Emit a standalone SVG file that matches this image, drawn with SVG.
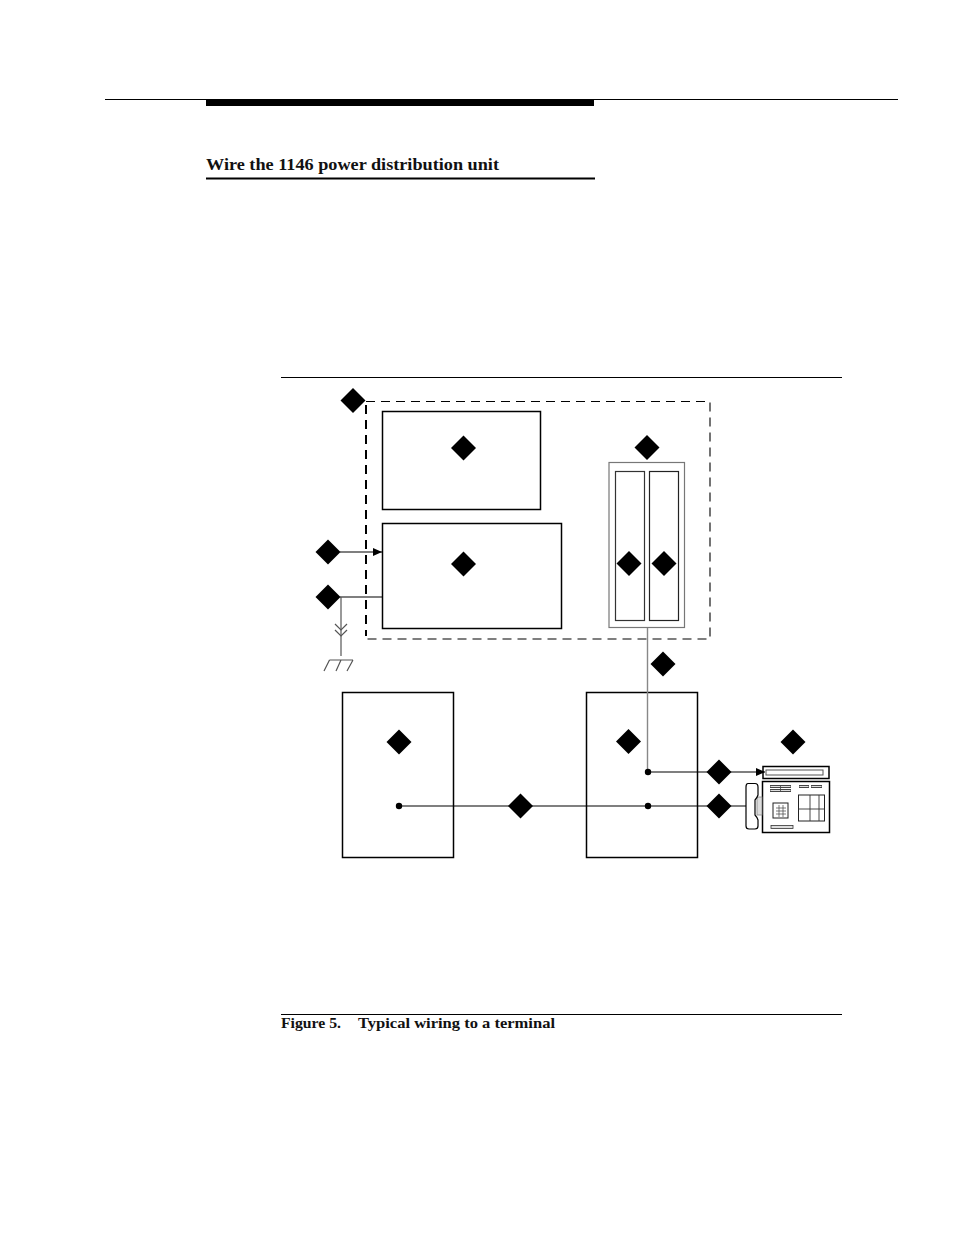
<svg xmlns="http://www.w3.org/2000/svg" width="954" height="1235" viewBox="0 0 954 1235">
<style>
.b{fill:none;stroke:#000;stroke-width:1.5}
.g{fill:none;stroke:#888;stroke-width:1.4}
.w{fill:none;stroke:#000;stroke-width:1.2}
.gw{fill:none;stroke:#555;stroke-width:1.2}
.t{font-family:"Liberation Serif","DejaVu Serif",serif;font-weight:bold;fill:#111}
.d{fill:#000}
.dot{fill:#000}
.dash{stroke:#000;stroke-dasharray:9 6;fill:none}
</style>
<defs>
<path id="dia" class="d" d="M0-12.500L12.500 0L0 12.500L-12.500 0Z"/>
<marker id="arr" markerUnits="userSpaceOnUse" markerWidth="10" markerHeight="8" refX="9" refY="4" orient="auto"><path d="M0 0L9 4L0 8Z" fill="#000"/></marker>
</defs>
<rect width="954" height="1235" fill="#fff"/>
<g id="page-rules">
<line x1="105" y1="99.500" x2="898" y2="99.500" stroke="#000" stroke-width="1"/>
<rect x="206" y="99" width="388" height="7" fill="#000"/>
<rect x="206" y="177.500" width="389" height="2" fill="#000"/>
<line x1="281" y1="377.500" x2="842" y2="377.500" stroke="#000" stroke-width="1"/>
<line x1="281" y1="1014.500" x2="842" y2="1014.500" stroke="#000" stroke-width="1"/>
</g>
<text id="heading" class="t" x="206" y="170" font-size="16.500" textLength="293" lengthAdjust="spacingAndGlyphs">Wire the 1146 power distribution unit</text>
<text id="caption" class="t" y="1028" font-size="14.500"><tspan x="281" textLength="60" lengthAdjust="spacingAndGlyphs">Figure 5.</tspan><tspan x="358" textLength="197" lengthAdjust="spacingAndGlyphs">Typical wiring to a terminal</tspan></text>
<g id="cabinet">
<path class="dash" stroke-width="1.100" d="M366 401.500H710V639H366"/>
<path class="dash" stroke-width="2" d="M366 405V636"/>
</g>
<g id="upper-unit"><rect class="b" x="382.500" y="411.500" width="158" height="98"/></g>
<g id="lower-unit"><rect class="b" x="382.500" y="523.500" width="179" height="105"/></g>
<g id="panel"><rect x="609" y="462.500" width="75.500" height="165" fill="none" stroke="#777" stroke-width="1.200"/>
<rect x="615.500" y="471.500" width="29" height="149" fill="none" stroke="#333" stroke-width="1.200"/>
<rect x="649.500" y="471.500" width="29" height="149" fill="none" stroke="#222" stroke-width="1.200"/></g>
<g id="left-box"><rect class="b" x="342.500" y="692.500" width="111" height="165"/></g>
<g id="right-box"><rect class="b" x="586.500" y="692.500" width="111" height="165"/></g>
<g id="terminal">
<rect x="763" y="766.500" width="66" height="12" fill="#fff" stroke="#000" stroke-width="1.500"/>
<rect x="766" y="770" width="57" height="5" fill="#fff" stroke="#555" stroke-width="1"/>
<rect x="762.500" y="781.500" width="67" height="51" fill="#fff" stroke="#000" stroke-width="1.500"/>
<rect x="757" y="797" width="5" height="18" fill="#ddd" stroke="#888" stroke-width="0.800"/>
<path d="M748 783.500H755Q758 783.500 758 787V795Q757 798 755 800V815Q757 817 758 820V826Q758 829 755 829H749Q746 829 746 826V787Q746 783.500 748 783.500Z" fill="#fff" stroke="#000" stroke-width="1.200"/>
<path d="M770 786.500H791M770 790.500H791M799 786.500H809M811 786.500H822" stroke="#444" stroke-width="3.200" fill="none"/>
<path d="M770.500 786.500H790.500M770.500 790.500H790.500M799.500 786.500H808.500M811.500 786.500H821.500" stroke="#ddd" stroke-width="1.200" fill="none"/>
<path d="M780.500 785V792" stroke="#444" stroke-width="0.800" fill="none"/>
<rect x="773" y="803" width="15" height="15" fill="#fff" stroke="#222" stroke-width="1"/>
<path d="M776 808H786M776 811H786M776 814H786M779 805V817M783 805V817" stroke="#444" stroke-width="0.700" fill="none"/>
<rect x="798.500" y="795" width="26" height="26" fill="#fff" stroke="#222" stroke-width="1"/>
<path d="M798.500 809H824.500M810 795V821M819 795V821" stroke="#333" stroke-width="0.900" fill="none"/>
<rect x="771" y="825.500" width="22" height="3" fill="#ddd" stroke="#333" stroke-width="0.800"/>
</g>
<g id="connectors">
<path class="w" d="M340 552H382" marker-end="url(#arr)"/>
<path class="w" d="M340 597H382"/>
<path class="gw" d="M341 597V656"/>
<path class="gw" d="M335 624L341 630L347 624M335 630L341 636L347 630"/>
<path class="gw" d="M329.500 660H353M329.500 660L324 671M341 660L336 671M353 660L347 671"/>
<path class="g" d="M647.500 628V772"/>
<path class="w" d="M648 772H765" marker-end="url(#arr)"/>
<path class="w" d="M399 806H746"/>
<circle class="dot" cx="648" cy="772" r="3.200"/>
<circle class="dot" cx="648" cy="806" r="3.200"/>
<circle class="dot" cx="399" cy="806" r="3.200"/>
</g>
<g id="markers">
<use href="#dia" x="353" y="400.500"/>
<use href="#dia" x="463.500" y="448"/>
<use href="#dia" x="647" y="447.500"/>
<use href="#dia" x="328" y="552"/>
<use href="#dia" x="463.500" y="564"/>
<use href="#dia" x="328" y="597"/>
<use href="#dia" x="629" y="563.500"/>
<use href="#dia" x="664" y="563.500"/>
<use href="#dia" x="663" y="664"/>
<use href="#dia" x="399" y="742"/>
<use href="#dia" x="628.500" y="741.500"/>
<use href="#dia" x="793" y="742"/>
<use href="#dia" x="719" y="772"/>
<use href="#dia" x="719" y="806"/>
<use href="#dia" x="520.500" y="806"/>
</g>
</svg>
